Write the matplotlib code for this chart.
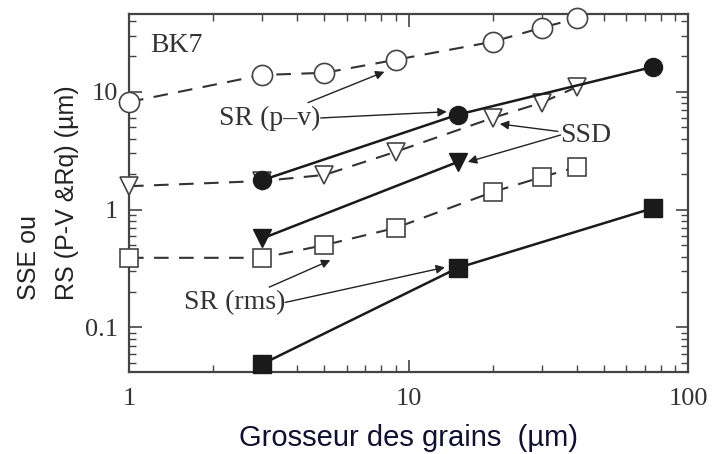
import matplotlib
matplotlib.use("Agg")
import matplotlib.pyplot as plt

# grain size (um)
x_open = [1, 3, 5, 9, 20, 30, 40]
x_ssd_open = [1, 3, 5, 9, 20, 30, 40]
x_filled = [3, 15, 75]
x_tri = [3, 15]

# SSD measurements (dashed, open markers)
pv_open = [8.2, 13.9, 14.5, 18.7, 26.6, 35, 42]
ssd_open = [1.58, 1.75, 1.97, 3.1, 6.0, 8.1, 11.0]
rms_open = [0.39, 0.39, 0.50, 0.70, 1.41, 1.89, 2.3]

# SR measurements (solid, filled markers)
pv_filled = [1.78, 6.4, 16.3]
ssd_filled = [0.57, 2.54]
rms_filled = [0.049, 0.32, 1.03]

serif = "Liberation Serif"
sans = "Liberation Sans"

fig = plt.figure(figsize=(7.13, 4.54), dpi=100)
ax = fig.add_axes([0.181, 0.181, 0.784, 0.788])

dash = dict(color="#333333", lw=1.5, dashes=(7, 5), mfc="white", mec="#444444",
            mew=1.2, clip_on=False, zorder=3)
solid = dict(color="#1a1a1a", lw=1.8, mfc="#1a1a1a", mec="#1a1a1a",
             clip_on=False, zorder=4)

ax.plot(x_open, pv_open, marker="o", ms=14.5, **dash)
ax.plot(x_ssd_open, ssd_open, marker="v", ms=13, **dash)
ax.plot(x_open, rms_open, marker="s", ms=13, **dash)

ax.plot(x_filled, pv_filled, marker="o", ms=13, **solid)
ax.plot(x_tri, ssd_filled, marker="v", ms=13, **solid)
ax.plot(x_filled, rms_filled, marker="s", ms=13, **solid)

ax.set_xscale("log")
ax.set_yscale("log")
ax.set_xlim(1, 100)
ax.set_ylim(0.042, 45.7)

ax.tick_params(which="both", direction="in", top=True, right=True,
               color="#444444", labelsize=19)
ax.tick_params(axis="x", pad=12)
ax.tick_params(axis="y", pad=8)
ax.tick_params(which="major", length=9, width=1.2)
ax.tick_params(which="minor", length=5, width=1.0)
fmt = matplotlib.ticker.FuncFormatter(lambda v, p: f"{v:g}")
ax.xaxis.set_major_formatter(fmt)
ax.yaxis.set_major_formatter(fmt)
for lab in ax.get_xticklabels() + ax.get_yticklabels():
    lab.set_fontfamily(serif)
    lab.set_color("#333333")
for s in ax.spines.values():
    s.set_linewidth(1.6)
    s.set_color("#444444")

ax.set_xlabel("Grosseur des grains  (µm)", fontsize=21, family=sans,
              color="#101030", labelpad=10)
ax.set_ylabel("SSE ou\nRS (P-V &Rq) (µm)", fontsize=18, family=sans,
              color="#222222", labelpad=4, linespacing=1.75,
              multialignment="left")

ax.text(0.038, 0.913, "BK7", transform=ax.transAxes, fontsize=20,
        family=serif, color="#333333", va="center")

arrow = dict(arrowstyle="-|>", color="#222222", lw=1.0,
             mutation_scale=13, shrinkA=0, shrinkB=0)
txt = dict(fontsize=20, family=serif, color="#333333")

# SR (p-v)
ax.annotate("SR (p–v)", xy=(8.2, 14.8), xytext=(4.85, 6.0), ha="right",
            va="center", arrowprops=arrow, **txt)
ax.annotate("", xy=(13.7, 6.77), xytext=(4.85, 6.0), arrowprops=arrow)

# SSD
ax.annotate("SSD", xy=(21.2, 5.34), xytext=(35, 4.3), ha="left",
            va="center", arrowprops=arrow, **txt)
ax.annotate("", xy=(16.3, 2.54), xytext=(35, 4.3), arrowprops=arrow)

# SR (rms)
ax.annotate("SR (rms)", xy=(5.25, 0.372), xytext=(3.62, 0.163), ha="right",
            va="center", arrowprops=arrow, **txt)
ax.annotate("", xy=(13.5, 0.324), xytext=(3.62, 0.163), arrowprops=arrow)

fig.savefig("out.png", dpi=100)
